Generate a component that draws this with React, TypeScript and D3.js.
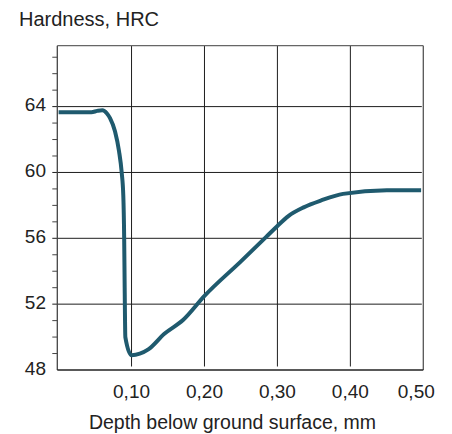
import React from "react"
import * as d3 from "d3"

// hardness profile
const depth = [0, 0.045, 0.053, 0.06, 0.066, 0.0705, 0.0773, 0.0828, 0.0865, 0.0887, 0.0899, 0.0906, 0.0915, 0.1, 0.123, 0.145, 0.171, 0.2, 0.25, 0.285, 0.3, 0.315, 0.336, 0.36, 0.39, 0.45, 0.497]
const hardness = [63.66, 63.66, 63.74, 63.78, 63.6, 63.3, 62.5, 61.3, 60.0, 58.6, 56.0, 53.0, 50.0, 48.9, 49.25, 50.2, 51.05, 52.5, 54.6, 56.1, 56.75, 57.35, 57.88, 58.3, 58.7, 58.92, 58.92]

const xTicks = [0.1, 0.2, 0.3, 0.4, 0.5]
const xTickLabels = ["0,10", "0,20", "0,30", "0,40", "0,50"]
const yTicks = [48, 52, 56, 60, 64]
const yMinor = [49, 50, 51, 53, 54, 55, 57, 58, 59, 61, 62, 63, 65, 66, 67]

const W = 452
const H = 434
const margin = {top: 45.7, right: 28.7, bottom: 64, left: 57.3}
const font = "'Liberation Sans', Arial, sans-serif"
const lineColor = "#1f5a6e"

const App = () => {
    const x = d3.scaleLinear().domain([0, 0.5]).range([58.6, W - margin.right])
    const y = d3.scaleLinear().domain([48, 67.7]).range([H - margin.bottom, margin.top])

    const pts: Array<[number, number]> = depth.map((d, i) => [d, hardness[i]])
    const line = d3.line<[number, number]>()
        .x(d => x(d[0]))
        .y(d => y(d[1]))
        .curve(d3.curveMonotoneX)

    const left = margin.left
    const right = W - margin.right
    const top = margin.top
    const bottom = H - margin.bottom

    return (
        <svg width={W} height={H} style={{position: "absolute", left: 0, top: 0}} fontFamily={font}>
            <rect width={W} height={H} fill="#fff"/>
            {/* grid */}
            {yTicks.filter(v => v > 48).map(v => (
                <line key={"h" + v} x1={left - 5} x2={right - 1.5} y1={y(v)} y2={y(v)} stroke="#1e1e1e" strokeWidth={1}/>
            ))}
            {xTicks.filter(v => v < 0.5).map(v => (
                <line key={"v" + v} x1={x(v)} x2={x(v)} y1={top} y2={bottom - 3.5} stroke="#1e1e1e" strokeWidth={1}/>
            ))}
            {/* minor ticks */}
            {yMinor.map(v => (
                <line key={"m" + v} x1={left - 5} x2={left} y1={y(v)} y2={y(v)} stroke="#444" strokeWidth={1}/>
            ))}
            {/* frame */}
            <line x1={left} x2={right} y1={top} y2={top} stroke="#666" strokeWidth={1.3}/>
            <line x1={right} x2={right} y1={top} y2={bottom} stroke="#555" strokeWidth={1.3}/>
            <line x1={left} x2={left} y1={top} y2={bottom} stroke="#444" strokeWidth={1.3}/>
            <line x1={left} x2={right} y1={bottom} y2={bottom} stroke="#222" strokeWidth={1.3}/>

            <path d={line(pts) || ""} fill="none" stroke={lineColor} strokeWidth={4} strokeLinejoin="round"/>

            {/* labels */}
            {yTicks.map(v => (
                <text key={"yl" + v} x={46} y={y(v) - 2} dy="0.35em" textAnchor="end" fontSize={19} fill="#222">{v}</text>
            ))}
            {xTicks.map((v, i) => (
                <text key={"xl" + v} x={x(v) - (v === 0.5 ? 7 : 0)} y={398} textAnchor="middle" fontSize={19} fill="#222">{xTickLabels[i]}</text>
            ))}
            <text x={19} y={26} fontSize={20} fill="#222">Hardness, HRC</text>
            <text x={232.5} y={429} textAnchor="middle" fontSize={19.5} fill="#222">Depth below ground surface, mm</text>
        </svg>
    )
}

export default App
